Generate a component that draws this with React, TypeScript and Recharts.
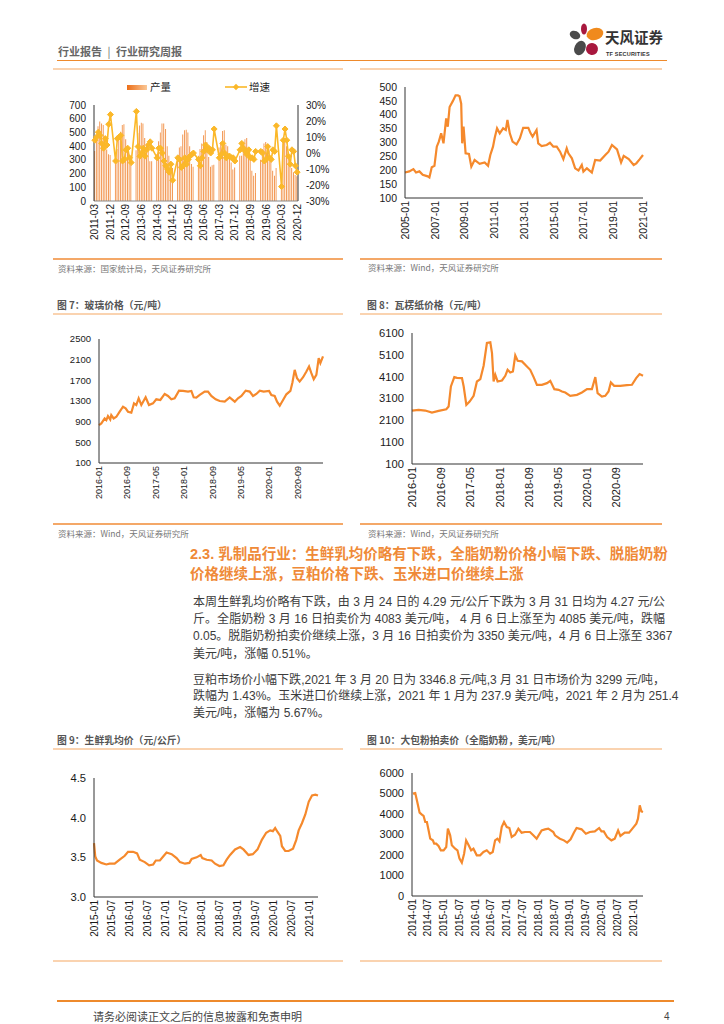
import { ComposedChart, LineChart, Bar, Line, XAxis, YAxis } from 'recharts'

const FONT = "'Liberation Sans', Arial, sans-serif"
const CJK = "'Noto Sans CJK SC', 'Liberation Sans', sans-serif"
const MIX = "'Liberation Sans', 'Noto Sans CJK SC', sans-serif"
const ORANGE = '#F5892C'
const GOLD = '#FBB829'
const LIGHT = '#FAD3B0'
const SRC = '#F4A868'

// fig 5: monthly output (Jan/Feb not published) and yoy growth, 2011-03 .. 2020-12
const fig5Months = Array.from({ length: 118 }, (_, i) => {
  const k = i + 2
  return `${2011 + Math.floor(k / 12)}-${String((k % 12) + 1).padStart(2, '0')}`
})
const fig5Output = [
  365, 440, 545, 580, 565, 555, 430, 375, 340, 335,
  null, null, 300, 380, 455, 505, 555, 560, 450, 400, 305, 265,
  null, null, 370, 495, 550, 570, 565, 460, 420, 380, 290, 290,
  null, null, 340, 435, 500, 565, 565, 525, 400, 330, 290, 240,
  null, null, 300, 390, 400, 485, 515, 520, 500, 400, 270, 250,
  null, null, 330, 380, 420, 480, 515, 430, 320, 250, 260, 265,
  null, null, 390, 430, 510, 515, 410, 400, 330, 280, 230, 245,
  null, null, 330, 330, 430, 450, 460, 380, 300, 220, 185, 205,
  null, null, 300, 380, 420, 430, 395, 370, 290, 220, 185, 240,
  null, null, 190, 420, 440, 400, 360, 300, 240, 210, 190, 180,
]
const fig5Growth = [
  8, 10, 13, 11, 6, 3, 9, 5, 18, 24,
  null, null, -5, 9, 10, 11, -5, -4, 2, 3, -3, -6,
  null, null, 26, 4, -2, 0, 3, -2, 2, 5, 7, 3,
  null, null, -3, 3, 3, 0, -5, -8, -10, -12, -7, -17,
  null, null, -3, -4, -9, -8, -3, -7, -4, -2, -1, 0,
  null, null, -4, -8, -3, 1, 5, 2, 3, 0, 2, 15,
  null, null, -3, -1, 6, 0, -3, -2, -2, -3, -3, -5,
  null, null, 2, 6, 3, 1, -1, 2, -3, -3, -4, 1,
  null, null, 1, 0, -5, -4, 4, -3, -4, 2, 1, 17,
  null, null, -21, 8, 15, 8, -2, -7, 2, 1, -8, -12,
]
const fig5LeftTicks = [0, 100, 200, 300, 400, 500, 600, 700]
const fig5RightTicks = [-30, -20, -10, 0, 10, 20, 30]

// fig 6: price 2005 - 2021
const fig6Dates = ['2005-01-01', '2005-04-15', '2005-07-24', '2005-09-28', '2005-12-20', '2006-03-10', '2006-07-12', '2006-08-22', '2006-10-19', '2006-12-24', '2007-02-21', '2007-04-10', '2007-06-07', '2007-08-03', '2007-10-08', '2007-11-17', '2008-01-01', '2008-03-22', '2008-05-26', '2008-07-23', '2008-09-01', '2008-10-12', '2008-11-06', '2008-12-09', '2009-01-29', '2009-04-20', '2009-06-17', '2009-09-06', '2010-01-08', '2010-05-10', '2010-08-02', '2010-09-27', '2010-12-02', '2011-01-15', '2011-03-10', '2011-05-15', '2011-08-07', '2011-10-12', '2011-11-22', '2012-01-19', '2012-03-26', '2012-07-01', '2012-09-23', '2012-12-13', '2013-04-17', '2013-06-13', '2013-08-01', '2013-11-07', '2013-12-17', '2014-03-10', '2014-07-12', '2014-10-01', '2014-12-24', '2015-03-15', '2015-06-06', '2015-08-26', '2015-11-17', '2015-12-28', '2016-03-22', '2016-06-11', '2016-09-02', '2016-11-22', '2017-01-01', '2017-03-26', '2017-07-26', '2017-10-16', '2018-02-17', '2018-06-21', '2018-09-10', '2018-12-02', '2019-04-05', '2019-07-13', '2019-09-17', '2020-01-19', '2020-05-18', '2020-07-23', '2020-10-16', '2021-01-04']
const fig6Values = [192, 196, 204, 192, 196, 184, 178, 174, 211, 216, 285, 303, 333, 297, 387, 357, 428, 450, 470, 470, 467, 440, 297, 357, 261, 259, 213, 237, 223, 228, 216, 255, 285, 318, 351, 333, 351, 345, 381, 333, 303, 293, 315, 353, 353, 333, 321, 345, 297, 287, 291, 299, 285, 285, 267, 240, 279, 261, 243, 207, 199, 219, 195, 207, 192, 237, 235, 255, 267, 291, 275, 228, 252, 240, 219, 225, 240, 255]
const fig6XLabels = ['2005-01', '2007-01', '2009-01', '2011-01', '2013-01', '2015-01', '2017-01', '2019-01', '2021-01']
const fig6YTicks = [100, 150, 200, 250, 300, 350, 400, 450, 500]

// fig 7: glass price (yuan/t)
const glassDates = ['2016-01-01', '2016-01-21', '2016-02-19', '2016-03-03', '2016-03-17', '2016-04-06', '2016-04-15', '2016-05-05', '2016-05-28', '2016-06-26', '2016-07-24', '2016-08-16', '2016-09-06', '2016-10-04', '2016-10-27', '2016-11-16', '2016-12-06', '2016-12-29', '2017-02-05', '2017-03-03', '2017-04-07', '2017-05-05', '2017-06-09', '2017-07-16', '2017-08-14', '2017-09-12', '2017-10-10', '2017-11-17', '2017-12-21', '2018-02-03', '2018-03-01', '2018-03-21', '2018-04-13', '2018-05-12', '2018-06-24', '2018-07-22', '2018-08-20', '2018-09-27', '2018-10-31', '2018-12-13', '2019-01-25', '2019-03-08', '2019-04-05', '2019-05-04', '2019-06-10', '2019-07-14', '2019-08-12', '2019-09-10', '2019-10-09', '2019-11-12', '2019-12-28', '2020-01-17', '2020-02-15', '2020-03-05', '2020-03-28', '2020-04-26', '2020-05-24', '2020-06-28', '2020-07-15', '2020-08-04', '2020-08-24', '2020-09-16', '2020-10-15', '2020-11-13', '2020-12-05', '2020-12-25', '2021-01-15', '2021-02-07', '2021-02-27', '2021-03-11', '2021-04-03']
const glassValues = [833, 866, 963, 930, 1008, 943, 1028, 963, 995, 1093, 1190, 1157, 1093, 1073, 1255, 1222, 1352, 1222, 1371, 1222, 1255, 1333, 1320, 1436, 1397, 1333, 1352, 1501, 1495, 1482, 1495, 1371, 1365, 1417, 1482, 1482, 1397, 1333, 1300, 1287, 1371, 1287, 1352, 1397, 1501, 1482, 1397, 1436, 1501, 1482, 1495, 1417, 1397, 1287, 1209, 1320, 1430, 1495, 1657, 1903, 1741, 1676, 1760, 1871, 1968, 1838, 1722, 1806, 2130, 2033, 2163]
const glassXLabels = ['2016-01', '2016-09', '2017-05', '2018-01', '2018-09', '2019-05', '2020-01', '2020-09']
const glassYTicks = [100, 500, 900, 1300, 1700, 2100, 2500]

// fig 8: corrugated paper price (yuan/t)
const paperDates = ['2016-01-01', '2016-02-26', '2016-04-20', '2016-06-15', '2016-08-10', '2016-10-13', '2016-11-02', '2016-11-21', '2016-12-19', '2017-01-11', '2017-02-22', '2017-03-06', '2017-03-28', '2017-04-25', '2017-05-28', '2017-06-25', '2017-07-23', '2017-08-20', '2017-09-17', '2017-10-15', '2017-10-29', '2017-11-12', '2017-11-26', '2017-12-15', '2018-01-21', '2018-02-18', '2018-03-07', '2018-03-29', '2018-04-21', '2018-05-10', '2018-05-30', '2018-07-05', '2018-08-16', '2018-09-13', '2018-10-11', '2018-11-08', '2018-12-19', '2019-01-31', '2019-02-28', '2019-04-01', '2019-05-06', '2019-06-04', '2019-07-01', '2019-08-12', '2019-10-07', '2019-11-18', '2019-12-30', '2020-02-10', '2020-03-08', '2020-03-27', '2020-05-02', '2020-05-30', '2020-06-27', '2020-07-16', '2020-08-13', '2020-10-03', '2020-11-28', '2021-01-09', '2021-02-14', '2021-03-12', '2021-04-10']
const paperValues = [2548, 2579, 2548, 2456, 2533, 2609, 2732, 3650, 4079, 4048, 4033, 3650, 2808, 2961, 3222, 3880, 3987, 4600, 5641, 5671, 5181, 3880, 4186, 3880, 3926, 4140, 4416, 4293, 4339, 5074, 4829, 4799, 4569, 4416, 4079, 3727, 3727, 3803, 3911, 3528, 3497, 3421, 3375, 3222, 3268, 3375, 3528, 3528, 4079, 3344, 3191, 3222, 3421, 3834, 3681, 3681, 3712, 3727, 4033, 4217, 4140]
const paperXLabels = glassXLabels
const paperYTicks = [100, 1100, 2100, 3100, 4100, 5100, 6100]

// fig 9: raw milk average price (yuan/kg)
const milkDates = ['2015-01-01', '2015-01-14', '2015-02-01', '2015-03-15', '2015-05-05', '2015-06-08', '2015-07-29', '2015-09-19', '2015-11-10', '2015-12-13', '2016-02-04', '2016-03-14', '2016-04-11', '2016-06-01', '2016-07-15', '2016-08-26', '2016-09-22', '2016-11-03', '2016-12-06', '2017-01-10', '2017-03-01', '2017-04-21', '2017-05-25', '2017-07-15', '2017-08-29', '2017-09-22', '2017-11-12', '2017-12-23', '2018-01-09', '2018-02-23', '2018-04-13', '2018-05-17', '2018-07-01', '2018-08-11', '2018-09-14', '2018-10-18', '2018-12-08', '2019-01-29', '2019-03-02', '2019-04-23', '2019-06-06', '2019-07-24', '2019-09-07', '2019-10-21', '2019-12-01', '2019-12-28', '2020-01-21', '2020-02-15', '2020-03-12', '2020-03-29', '2020-05-02', '2020-06-06', '2020-07-20', '2020-08-23', '2020-09-17', '2020-10-20', '2020-11-24', '2020-12-28', '2021-02-01', '2021-03-05', '2021-04-01']
const milkValues = [3.68, 3.51, 3.46, 3.43, 3.41, 3.42, 3.42, 3.47, 3.52, 3.57, 3.57, 3.55, 3.47, 3.44, 3.4, 3.41, 3.46, 3.46, 3.51, 3.56, 3.54, 3.49, 3.44, 3.42, 3.43, 3.48, 3.5, 3.53, 3.49, 3.47, 3.46, 3.42, 3.39, 3.4, 3.47, 3.53, 3.6, 3.63, 3.6, 3.53, 3.54, 3.6, 3.72, 3.81, 3.84, 3.83, 3.87, 3.82, 3.77, 3.64, 3.58, 3.58, 3.61, 3.72, 3.84, 3.93, 4.04, 4.2, 4.28, 4.29, 4.28]
const milkXLabels = ['2015-01', '2015-07', '2016-01', '2016-07', '2017-01', '2017-07', '2018-01', '2018-07', '2019-01', '2019-07', '2020-01', '2020-07', '2021-01']
const milkYTicks = [3.0, 3.5, 4.0, 4.5]

// fig 10: whole milk powder auction price (USD/t)
const wmpDates = ['2014-01-12', '2014-02-08', '2014-02-27', '2014-03-28', '2014-04-24', '2014-05-13', '2014-06-02', '2014-06-21', '2014-07-10', '2014-07-29', '2014-08-29', '2014-09-14', '2014-10-07', '2014-11-03', '2014-11-30', '2015-01-01', '2015-02-01', '2015-02-20', '2015-03-16', '2015-04-05', '2015-05-13', '2015-06-09', '2015-07-02', '2015-07-29', '2015-08-25', '2015-09-18', '2015-10-14', '2015-11-15', '2015-12-11', '2016-01-19', '2016-02-27', '2016-04-05', '2016-05-13', '2016-06-21', '2016-07-21', '2016-08-18', '2016-09-14', '2016-10-07', '2016-11-03', '2016-11-30', '2017-01-01', '2017-01-31', '2017-02-27', '2017-04-05', '2017-05-13', '2017-06-20', '2017-07-29', '2017-09-25', '2017-11-03', '2017-12-11', '2018-02-08', '2018-03-16', '2018-04-24', '2018-06-21', '2018-07-10', '2018-09-06', '2018-10-22', '2018-11-29', '2019-01-08', '2019-02-15', '2019-03-16', '2019-05-13', '2019-07-02', '2019-08-17', '2019-10-14', '2019-12-03', '2019-12-30', '2020-01-26', '2020-03-04', '2020-04-23', '2020-06-01', '2020-07-09', '2020-08-05', '2020-09-25', '2020-11-14', '2020-12-22', '2021-02-07', '2021-02-26', '2021-03-16', '2021-04-04', '2021-04-23']
const wmpValues = [4992, 5024, 4667, 4065, 3967, 3902, 3610, 3610, 3203, 2797, 2715, 2553, 2553, 2439, 2228, 2228, 2390, 3285, 2959, 2472, 2309, 2228, 1821, 1626, 2065, 2715, 2504, 2228, 2309, 1984, 1984, 2146, 2228, 2065, 2146, 2715, 2797, 2667, 3366, 3610, 3366, 3317, 2878, 2992, 3285, 3089, 3122, 3122, 2959, 2797, 3203, 3252, 3285, 3122, 2959, 2797, 2715, 2602, 2764, 3089, 3317, 3252, 3041, 3122, 3154, 3317, 3154, 3154, 2878, 2715, 2797, 3203, 2927, 3089, 3089, 3285, 3528, 3772, 4423, 4130, 4098]
const wmpXLabels = ['2014-01', '2014-07', '2015-01', '2015-07', '2016-01', '2016-07', '2017-01', '2017-07', '2018-01', '2018-07', '2019-01', '2019-07', '2020-01', '2020-07', '2021-01']
const wmpYTicks = [0, 1000, 2000, 3000, 4000, 5000, 6000]

const toT = (s: string) => {
  const [y, m, d] = s.split('-').map(Number)
  return y + (m - 1) / 12 + ((d || 1) - 1) / 365
}

const rotTick = (fs: number, fmt: (v: any) => string) => (p: any) => (
  <text
    x={p.x}
    y={p.y}
    transform={`rotate(-90, ${p.x}, ${p.y})`}
    textAnchor="end"
    dominantBaseline="central"
    fontSize={fs}
    fill="#1a1a1a"
    fontFamily={FONT}
  >
    {fmt(p.payload.value)}
  </text>
)

const Diamond = (p: any) => {
  if (p.cy == null || p.cx == null || p.value == null) return <g key={p.key} />
  const r = 3
  return (
    <path
      key={p.key}
      d={`M${p.cx},${p.cy - r}L${p.cx + r},${p.cy}L${p.cx},${p.cy + r}L${p.cx - r},${p.cy}Z`}
      fill={GOLD}
      stroke={GOLD}
      strokeWidth={1}
    />
  )
}

type PriceProps = {
  left: number
  top: number
  width: number
  height: number
  yWidth: number
  xHeight: number
  dates: string[]
  values: number[]
  xLabels: string[]
  yTicks: number[]
  yFont: number
  xFont: number
  yFmt?: (v: number) => string
}

function PriceChart(p: PriceProps) {
  const data = p.dates.map((d, i) => ({ t: toT(d), v: p.values[i] }))
  const xt = p.xLabels.map(toT)
  const label = (v: number) => {
    let best = 0
    xt.forEach((t, i) => {
      if (Math.abs(t - v) < Math.abs(xt[best] - v)) best = i
    })
    return p.xLabels[best]
  }
  const end = Math.max(data[data.length - 1].t, xt[xt.length - 1])
  return (
    <div style={{ position: 'absolute', left: p.left, top: p.top, fontFamily: FONT }}>
      <LineChart width={p.width} height={p.height} data={data} margin={{ top: 10, right: 7, left: 0, bottom: 0 }}>
        <XAxis
          dataKey="t"
          type="number"
          domain={[xt[0], end]}
          ticks={xt}
          interval={0}
          height={p.xHeight}
          axisLine={{ stroke: '#333', strokeWidth: 1 }}
          tickLine={false}
          tickSize={0}
          tickMargin={3}
          tick={rotTick(p.xFont, label)}
        />
        <YAxis
          domain={[p.yTicks[0], p.yTicks[p.yTicks.length - 1]]}
          ticks={p.yTicks}
          interval={0}
          width={p.yWidth}
          axisLine={{ stroke: '#333', strokeWidth: 1 }}
          tickLine={false}
          tickSize={0}
          tickMargin={8}
          tick={{ fontSize: p.yFont, fill: '#1a1a1a', fontFamily: FONT }}
          tickFormatter={p.yFmt}
        />
        <Line type="linear" dataKey="v" stroke={ORANGE} strokeWidth={2.2} dot={false} isAnimationActive={false} />
      </LineChart>
    </div>
  )
}

function Fig5() {
  const data = fig5Months.map((m, i) => ({ m, output: fig5Output[i], growth: fig5Growth[i] }))
  return (
    <div style={{ position: 'absolute', left: 40, top: 95, fontFamily: FONT }}>
      <ComposedChart width={300} height={160} data={data} margin={{ top: 10, right: 0, left: 0, bottom: 0 }} barCategoryGap="12%">
        <defs>
          <linearGradient id="barFill" x1="0" y1="0" x2="1" y2="0">
            <stop offset="0%" stopColor="#EC6E18" />
            <stop offset="100%" stopColor="#FAC796" />
          </linearGradient>
        </defs>
        <XAxis
          dataKey="m"
          interval={8}
          height={54}
          axisLine={{ stroke: '#888' }}
          tickLine={false}
          tickSize={0}
          tickMargin={3}
          tick={rotTick(10, (v) => v)}
        />
        <YAxis
          yAxisId="l"
          domain={[0, 700]}
          ticks={fig5LeftTicks}
          interval={0}
          width={54}
          axisLine={{ stroke: '#333' }}
          tickLine={false}
          tickSize={0}
          tickMargin={8}
          tick={{ fontSize: 10, fill: '#1a1a1a' }}
        />
        <YAxis
          yAxisId="r"
          orientation="right"
          domain={[-30, 30]}
          ticks={fig5RightTicks}
          interval={0}
          width={42}
          axisLine={{ stroke: '#333' }}
          tickLine={false}
          tickSize={0}
          tickMargin={8}
          tick={{ fontSize: 10, fill: '#1a1a1a' }}
          tickFormatter={(v) => `${v}%`}
        />
        <Bar yAxisId="l" dataKey="output" fill="url(#barFill)" isAnimationActive={false} />
        <Line
          yAxisId="r"
          type="linear"
          dataKey="growth"
          stroke={GOLD}
          strokeWidth={1.6}
          connectNulls
          dot={Diamond}
          activeDot={false}
          isAnimationActive={false}
        />
      </ComposedChart>
    </div>
  )
}

const HLine = ({ x1, x2, y, color, h = 1.5 }: { x1: number; x2: number; y: number; color: string; h?: number }) => (
  <div style={{ position: 'absolute', left: x1, top: y - h / 2, width: x2 - x1, height: h, background: color }} />
)

const Txt = ({ x, y, fs, children, color = '#555', bold = false, lh = 1.3, font = CJK }: any) => (
  <div
    style={{
      position: 'absolute',
      left: x,
      top: y - (fs * lh) / 2,
      fontSize: fs,
      lineHeight: `${fs * lh}px`,
      color,
      fontWeight: bold ? 700 : 400,
      fontFamily: font,
      whiteSpace: 'nowrap',
    }}
  >
    {children}
  </div>
)

const JLine = ({ x, y, w, fs, children, color, bold = false, last = false }: any) => (
  <div
    style={{
      position: 'absolute',
      left: x,
      top: y - fs * 0.7,
      width: w,
      fontSize: fs,
      lineHeight: `${fs * 1.4}px`,
      color,
      fontWeight: bold ? 700 : 400,
      fontFamily: MIX,
      whiteSpace: 'nowrap',
      textAlign: last ? 'left' : 'justify',
      textAlignLast: last ? 'left' : 'justify',
    }}
  >
    {children}
  </div>
)

const headingLines = [
  '2.3. 乳制品行业：生鲜乳均价略有下跌，全脂奶粉价格小幅下跌、脱脂奶粉',
  '价格继续上涨，豆粕价格下跌、玉米进口价继续上涨',
]
const para1 = [
  '本周生鲜乳均价略有下跌，由 3 月 24 日的 4.29 元/公斤下跌为 3 月 31 日均为 4.27 元/公',
  '斤。全脂奶粉 3 月 16 日拍卖价为 4083 美元/吨，  4 月 6 日上涨至为 4085 美元/吨，跌幅',
  '0.05。脱脂奶粉拍卖价继续上涨，3 月 16 日拍卖价为 3350 美元/吨，4 月 6 日上涨至 3367',
  '美元/吨，涨幅 0.51%。',
]
const para2 = [
  '豆粕市场价小幅下跌,2021 年 3 月 20 日为 3346.8 元/吨,3 月 31 日市场价为 3299 元/吨，',
  '跌幅为 1.43%。玉米进口价继续上涨，2021 年 1 月为 237.9 美元/吨，2021 年 2 月为 251.4',
  '美元/吨，涨幅为 5.67%。',
]

function Logo() {
  return (
    <svg style={{ position: 'absolute', left: 560, top: 18 }} width={120} height={50}>
      <ellipse cx={15} cy={17} rx={5.5} ry={4} transform="rotate(25 15 17)" fill="#4A4A4A" />
      <ellipse cx={24} cy={11} rx={3} ry={5.5} fill="#A8183E" />
      <ellipse cx={35} cy={16} rx={8.5} ry={6} transform="rotate(-15 35 16)" fill="#F08A1D" />
      <ellipse cx={20} cy={30} rx={5.5} ry={7.5} transform="rotate(25 20 30)" fill="#4A4A4A" />
      <ellipse cx={32} cy={31} rx={6} ry={6} transform="rotate(15 32 31)" fill="#A8183E" />
      <text x={45} y={25} fontSize={14.5} fontWeight={700} fill="#333" fontFamily={CJK}>
        天风证券
      </text>
      <text x={46} y={38} fontSize={5.5} fontWeight={700} fill="#333" fontFamily={FONT} letterSpacing={0.2}>
        TF SECURITIES
      </text>
    </svg>
  )
}

export default function App() {
  const cols = [
    [53, 343],
    [360, 662],
  ]
  return (
    <div style={{ position: 'absolute', left: 0, top: 0, width: 724, height: 1024, background: '#fff', overflow: 'hidden' }}>
      {/* header */}
      <Txt x={58} y={51} fs={11} bold color="#666">
        行业报告 <span style={{ fontWeight: 400, margin: '0 3px' }}>|</span> 行业研究周报
      </Txt>
      <Logo />
      <HLine x1={57} x2={667} y={60.5} color="#EE8A2C" />

      {/* rules */}
      {cols.map(([a, b], i) => (
        <div key={i}>
          <HLine x1={a} x2={b} y={69} color={LIGHT} />
          <HLine x1={a} x2={b} y={259} color={SRC} />
          <HLine x1={a} x2={b} y={314} color={LIGHT} />
          <HLine x1={a} x2={b} y={524} color={SRC} />
          <HLine x1={a} x2={b} y={749} color={LIGHT} />
          <HLine x1={a} x2={b} y={961} color={LIGHT} />
        </div>
      ))}

      {/* fig 5 legend */}
      <div style={{ position: 'absolute', left: 127, top: 84.5, width: 20, height: 5, background: 'linear-gradient(90deg, #EC6E18, #FAC796)' }} />
      <Txt x={150} y={87} fs={10.5} color="#222">产量</Txt>
      <svg style={{ position: 'absolute', left: 225, top: 82 }} width={22} height={10}>
        <line x1={0} y1={5} x2={22} y2={5} stroke={GOLD} strokeWidth={1.6} />
        <path d="M11,1.8L14.2,5L11,8.2L7.8,5Z" fill={GOLD} />
      </svg>
      <Txt x={249} y={87} fs={10.5} color="#222">增速</Txt>
      <Fig5 />

      <PriceChart left={360} top={77} width={290} height={170} yWidth={45} xHeight={49} dates={fig6Dates} values={fig6Values} xLabels={fig6XLabels} yTicks={fig6YTicks} yFont={10.5} xFont={10.5} />

      <Txt x={58} y={269} fs={8.5} color="#777">资料来源：国家统计局，天风证券研究所</Txt>
      <Txt x={368} y={268} fs={8.5} color="#777">资料来源：Wind，天风证券研究所</Txt>

      {/* fig 7 & 8 */}
      <Txt x={57} y={305} fs={9.8} bold color="#555">图 7：玻璃价格（元/吨）</Txt>
      <Txt x={367} y={305} fs={9.8} bold color="#555">图 8：瓦楞纸价格（元/吨）</Txt>
      <PriceChart left={40} top={329} width={290} height={185} yWidth={59} xHeight={51} dates={glassDates} values={glassValues} xLabels={glassXLabels} yTicks={glassYTicks} yFont={9.5} xFont={9} />
      <PriceChart left={360} top={323} width={290} height={191} yWidth={52} xHeight={50} dates={paperDates} values={paperValues} xLabels={paperXLabels} yTicks={paperYTicks} yFont={11.2} xFont={11} />
      <Txt x={58} y={534} fs={8.5} color="#777">资料来源：Wind，天风证券研究所</Txt>
      <Txt x={368} y={534} fs={8.5} color="#777">资料来源：Wind，天风证券研究所</Txt>

      {/* section 2.3 */}
      {headingLines.map((t, i) => (
        <JLine key={t} x={190} y={554 + i * 20} w={475} fs={14.5} bold color="#EF8A38" last={i === headingLines.length - 1}>
          {t}
        </JLine>
      ))}
      {para1.map((t, i) => (
        <JLine key={t} x={193} y={602 + i * 17.3} w={472} fs={12} color="#3c3c3c" last={i === para1.length - 1}>
          {t}
        </JLine>
      ))}
      {para2.map((t, i) => (
        <JLine key={t} x={193} y={680 + i * 16.7} w={472} fs={12} color="#3c3c3c" last={i === para2.length - 1}>
          {t}
        </JLine>
      ))}

      {/* fig 9 & 10 */}
      <Txt x={57} y={740} fs={9.8} bold color="#555">图 9：生鲜乳均价（元/公斤）</Txt>
      <Txt x={367} y={740} fs={9.8} bold color="#555">图 10：大包粉拍卖价（全脂奶粉，美元/吨）</Txt>
      <PriceChart left={40} top={768} width={285} height={180} yWidth={54} xHeight={51} dates={milkDates} values={milkValues} xLabels={milkXLabels} yTicks={milkYTicks} yFont={11.2} xFont={10} yFmt={(v) => v.toFixed(1)} />
      <PriceChart left={360} top={763} width={290} height={185} yWidth={52} xHeight={52} dates={wmpDates} values={wmpValues} xLabels={wmpXLabels} yTicks={wmpYTicks} yFont={11} xFont={10.2} />

      {/* footer */}
      <HLine x1={57} x2={674} y={1001} color="#EE8A2C" />
      <Txt x={93} y={1016} fs={11} color="#444">请务必阅读正文之后的信息披露和免责申明</Txt>
      <Txt x={664} y={1016} fs={10} color="#444" font={FONT}>4</Txt>
    </div>
  )
}
